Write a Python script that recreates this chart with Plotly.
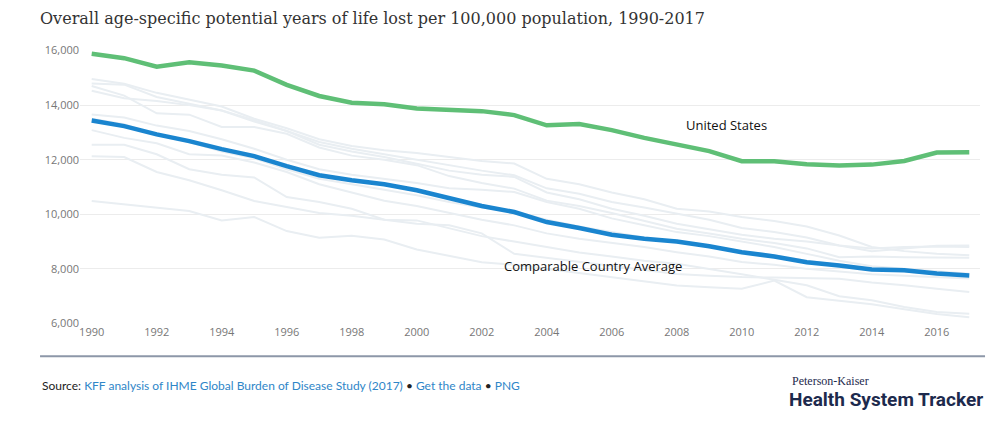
import plotly.graph_objects as go

years = list(range(1990, 2018))

united_states = [15880, 15720, 15410, 15570, 15450, 15265, 14740, 14335, 14090, 14030,
                 13880, 13845, 13780, 13635, 13260, 13305, 13085, 12800, 12560, 12313,
                 11945, 11945, 11835, 11785, 11820, 11955, 12265, 12275]

comparable_avg = [13440, 13232, 12927, 12680, 12387, 12130, 11762, 11430, 11247, 11100,
                  10880, 10575, 10302, 10082, 9715, 9495, 9250, 9104, 9000, 8832,
                  8612, 8453, 8245, 8123, 7976, 7950, 7828, 7755]

# individual comparable countries (unlabelled grey lines)
comparable_countries = {
    "Country 1": [14960, 14780, 14450, 14200, 13950, 13500, 13150, 12750, 12500, 12350,
                  12250, 12100, 11950, 11860, 11300, 11100, 10800, 10550, 10206, 10100,
                  9900, 9750, 9550, 9225, 8800, 8650, 8550, 8495],
    "Country 2": [14790, 14750, 14300, 14050, 13800, 13400, 13050, 12650, 12400, 12200,
                  12000, 11800, 11600, 11430, 10950, 10750, 10450, 10250, 10022, 9800,
                  9500, 9350, 9150, 8860, 8650, 8750, 8850, 8860],
    "Country 3": [14530, 14250, 14150, 14000, 13800, 13450, 13050, 12550, 12300, 12100,
                  11850, 11600, 11450, 11370, 10800, 10550, 10200, 9950, 9655, 9450,
                  9250, 9100, 9000, 8860, 8750, 8800, 8820, 8800],
    "Country 4": [14700, 14350, 13700, 13650, 13200, 13200, 12950, 12450, 12150, 12000,
                  11800, 11400, 11150, 10940, 10500, 10300, 10050, 9750, 9470, 9300,
                  9100, 8950, 8750, 8430, 8450, 8430, 8420, 8410],
    "Country 5": [13660, 13550, 13250, 13050, 12750, 12400, 12000, 11650, 11450, 11300,
                  11150, 10950, 10900, 10817, 10450, 10200, 9850, 9600, 9347, 9200,
                  9000, 8800, 8550, 8300, 8100, 8000, 7900, 7820],
    "Country 6": [13500, 13300, 12900, 12650, 12300, 12050, 11650, 11300, 11100, 10900,
                  10700, 10450, 10250, 10100, 9800, 9550, 9350, 9150, 9000, 8850,
                  8650, 8500, 8300, 8150, 8000, 7900, 7800, 7720],
    "Country 7": [13085, 12800, 12600, 12200, 12150, 11900, 11550, 11100, 10800, 10500,
                  10300, 10050, 9800, 9594, 9300, 9100, 8950, 8800, 8612, 8450,
                  8250, 8150, 8000, 7900, 7800, 7750, 7700, 7650],
    "Country 8": [12550, 12550, 12200, 11650, 11450, 11350, 10633, 10450, 10200, 9800,
                  9777, 9500, 9200, 9000, 8800, 8600, 8450, 8300, 8184, 8000,
                  7800, 7600, 7400, 7000, 6850, 6600, 6420, 6355],
    "Country 9": [12130, 12100, 11550, 11250, 10880, 10486, 10265, 10050, 9950, 9800,
                  9650, 9600, 9300, 8552, 8400, 8250, 8100, 7950, 7816, 7750,
                  7700, 7680, 7650, 7634, 7500, 7400, 7270, 7150],
    "Country 10": [10490, 10365, 10266, 10120, 9777, 9900, 9384, 9140, 9214, 9078,
                   8710, 8490, 8244, 8150, 8000, 7850, 7700, 7550, 7390, 7330,
                   7270, 7570, 6960, 6835, 6700, 6520, 6345, 6230],
}

y_ticks = [6000, 8000, 10000, 12000, 14000, 16000]
x_ticks = list(range(1990, 2017, 2))

GREEN = "#5fbf76"
BLUE = "#1a85cf"
GREY = "#e9eef2"
LINK = "#2f86c8"

fig = go.Figure()

for name, vals in comparable_countries.items():
    fig.add_trace(go.Scatter(x=years, y=vals, mode="lines", name=name,
                             line=dict(color=GREY, width=2), hoverinfo="skip"))

fig.add_trace(go.Scatter(x=years, y=comparable_avg, mode="lines",
                         name="Comparable Country Average",
                         line=dict(color=BLUE, width=4.5)))
fig.add_trace(go.Scatter(x=years, y=united_states, mode="lines", name="United States",
                         line=dict(color=GREEN, width=4.5)))

fig.add_annotation(x=2008.22, y=13269, text="United States", showarrow=False,
                   xanchor="left", yanchor="middle",
                   font=dict(family="Open Sans", size=13, color="#111"))
fig.add_annotation(x=2002.63, y=8122, text="Comparable Country Average", showarrow=False,
                   xanchor="left", yanchor="middle",
                   font=dict(family="Open Sans", size=13, color="#111"))

# footer
fig.add_shape(type="line", xref="paper", yref="paper", x0=-0.0444, x1=1.0056,
              y0=-0.1175, y1=-0.1175, line=dict(color="#8d97a8", width=2))

source = ("Source: <span style='color:%s'>KFF analysis of IHME Global Burden of Disease "
          "Study (2017)</span> • <span style='color:%s'>Get the data</span> • "
          "<span style='color:%s'>PNG</span>") % (LINK, LINK, LINK)
fig.add_annotation(xref="paper", yref="paper", x=-0.0444, y=-0.2234, text=source,
                   showarrow=False, xanchor="left", yanchor="middle",
                   font=dict(family="Lato", size=12, color="#222"))
fig.add_annotation(xref="paper", yref="paper", x=0.789, y=-0.2088, text="Peterson-Kaiser",
                   showarrow=False, xanchor="left", yanchor="middle",
                   font=dict(family="Liberation Serif", size=12, color="#1d2a4d"))
fig.add_annotation(xref="paper", yref="paper", x=0.786, y=-0.2745,
                   text="<b>Health System Tracker</b>", showarrow=False,
                   xanchor="left", yanchor="middle",
                   font=dict(family="Roboto", size=19, color="#1d2a4d"))

fig.update_layout(
    width=998, height=433,
    margin=dict(l=80, r=18, t=50, b=109),
    paper_bgcolor="white", plot_bgcolor="white",
    showlegend=False,
    title=dict(text="Overall age-specific potential years of life lost per 100,000 population, 1990-2017",
               x=40 / 998, xanchor="left", y=1 - 18 / 433, yanchor="middle",
               font=dict(family="DejaVu Serif", size=16, color="#333")),
    xaxis=dict(range=[1989.64, 2017.33], tickvals=x_ticks, showgrid=False,
               zeroline=False, showline=False, ticks="",
               tickfont=dict(family="Open Sans", size=11, color="#777")),
    yaxis=dict(range=[5980, 16020], tickvals=y_ticks, tickformat=",",
               showgrid=True, gridcolor="#ececec", gridwidth=1, zeroline=False,
               showline=False, ticks="",
               tickfont=dict(family="Open Sans", size=11, color="#777")),
)

# drop the default page margin so the figure sits at the window's corner
fig.write_html("out.html", config={"displayModeBar": False},
               post_script="document.body.style.margin='0px';")
